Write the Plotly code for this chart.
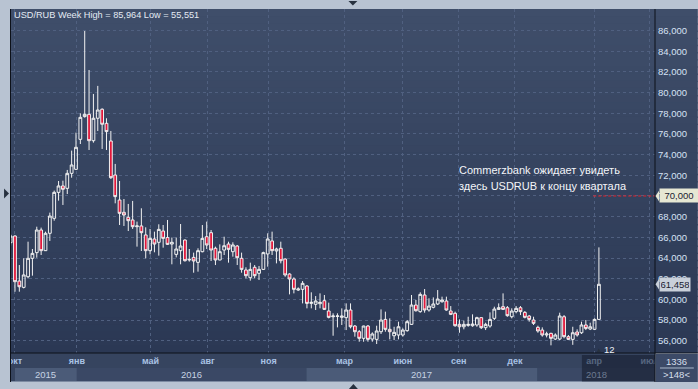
import plotly.graph_objects as go

# ---------------- data (weekly USD/RUB candles) ----------------
opens = [65.48, 66.13, 61.77, 61.16, 62.19, 63.97, 64.52, 66.71, 64.71, 66.39,
         67.84, 70.35, 70.97, 70.74, 72.19, 72.58, 75.48, 77.68, 77.90, 75.35,
         77.52, 78.39, 77.03, 75.32, 72.03, 69.61, 68.42, 67.94, 67.68, 67.03,
         67.10, 66.23, 64.71, 65.84, 65.52, 66.61, 65.98, 65.35, 64.35, 64.71,
         65.74, 63.81, 64.06, 63.58, 64.61, 66.06, 66.45, 64.94, 63.81, 64.77,
         65.35, 64.61, 65.16, 63.97, 62.84, 62.10, 63.10, 62.52, 62.90, 64.39,
         65.65, 64.68, 64.94, 63.90, 62.45, 61.97, 60.90, 60.97, 61.29, 59.61,
         59.52, 59.58, 59.87, 58.87, 58.32, 58.35, 58.26, 58.23, 58.97, 57.42,
         56.87, 56.23, 57.42, 56.16, 56.13, 56.87, 58.06, 57.10, 56.48, 56.55,
         56.55, 56.97, 57.58, 59.45, 58.81, 60.42, 58.97, 59.23, 59.55, 59.77,
         59.84, 58.87, 58.65, 57.58, 57.35, 57.48, 57.45, 57.52, 58.23, 57.26,
         57.42, 58.16, 59.03, 59.29, 59.19, 58.32, 58.81, 59.19, 58.74, 58.39,
         58.00, 57.29, 57.03, 56.55, 56.71, 56.16, 56.16, 58.32, 56.39, 56.13,
         56.84, 56.77, 57.52, 57.13, 57.10, 58.06]
highs = [66.30, 66.20, 63.32, 63.97, 65.58, 64.87, 67.03, 66.94, 66.55, 68.39,
         70.52, 71.45, 71.48, 72.52, 74.39, 76.13, 78.00, 85.964, 82.19, 79.87,
         80.65, 78.48, 77.52, 76.29, 73.10, 71.45, 69.71, 69.23, 69.52, 67.52,
         68.81, 66.97, 66.81, 66.55, 67.26, 67.19, 67.68, 65.98, 65.98, 67.29,
         65.80, 64.87, 64.52, 64.94, 67.19, 67.52, 66.71, 65.10, 65.32, 66.06,
         65.58, 65.52, 65.26, 64.52, 63.10, 63.55, 63.32, 63.23, 64.61, 66.39,
         66.55, 65.00, 65.58, 63.97, 62.52, 62.13, 61.16, 61.77, 61.39, 60.68,
         60.32, 60.58, 60.42, 59.68, 58.65, 58.65, 59.13, 59.61, 59.61, 57.52,
         57.03, 57.45, 57.52, 56.81, 57.45, 59.03, 58.81, 58.16, 57.35, 57.84,
         57.19, 58.00, 60.42, 59.94, 60.68, 61.00, 60.10, 60.19, 60.90, 60.26,
         60.26, 59.35, 58.81, 58.06, 57.94, 58.32, 58.55, 58.32, 58.26, 57.74,
         58.74, 59.29, 59.61, 60.58, 59.35, 59.13, 59.35, 59.35, 58.87, 58.48,
         58.32, 57.45, 57.29, 56.87, 56.77, 56.71, 58.71, 58.48, 56.55, 57.35,
         57.10, 57.84, 58.00, 57.74, 58.16, 65.03]
lows = [65.20, 60.74, 60.74, 61.06, 62.03, 62.29, 64.03, 64.29, 64.68, 65.65,
        67.61, 69.55, 69.13, 70.19, 71.77, 72.52, 75.03, 77.58, 74.45, 75.16,
        76.29, 74.55, 74.45, 71.65, 69.29, 67.19, 67.10, 66.61, 66.81, 65.10,
        64.68, 63.97, 64.35, 64.55, 64.23, 65.00, 65.26, 63.39, 64.06, 63.39,
        63.65, 63.65, 62.58, 62.68, 64.55, 64.87, 63.71, 63.32, 63.78, 64.29,
        63.55, 64.13, 63.32, 62.58, 62.03, 61.81, 62.03, 61.87, 62.84, 63.16,
        64.29, 63.48, 63.48, 62.19, 60.48, 60.58, 60.81, 59.61, 59.13, 59.13,
        58.97, 59.13, 58.97, 58.16, 56.48, 57.29, 57.52, 57.03, 57.19, 56.39,
        55.90, 55.90, 55.90, 55.90, 55.68, 56.65, 56.87, 56.13, 56.06, 56.13,
        56.39, 56.87, 57.52, 58.81, 58.71, 58.71, 58.81, 59.13, 59.45, 59.68,
        58.90, 58.48, 57.35, 56.77, 57.10, 57.35, 57.35, 57.35, 57.13, 57.03,
        57.26, 58.00, 58.97, 58.97, 58.32, 58.16, 58.65, 58.48, 58.16, 57.84,
        57.52, 56.77, 56.39, 56.32, 55.551, 56.06, 56.06, 56.23, 56.06, 55.60,
        56.39, 56.65, 57.03, 57.03, 57.03, 58.06]
closes = [66.13, 61.71, 61.22, 62.36, 63.97, 64.45, 66.71, 64.71, 66.39, 68.06,
          70.35, 70.97, 70.65, 72.19, 73.00, 74.71, 77.61, 77.90, 75.35, 77.52,
          78.32, 76.94, 76.23, 71.77, 69.94, 68.32, 68.16, 67.61, 67.03, 67.10,
          66.45, 64.71, 65.90, 65.35, 66.77, 65.90, 65.32, 65.52, 64.87, 65.16,
          63.74, 63.87, 63.71, 64.71, 65.90, 65.26, 64.77, 63.81, 64.61, 65.19,
          64.84, 65.26, 64.03, 62.90, 62.29, 62.90, 62.29, 62.90, 64.52, 65.84,
          64.71, 64.87, 63.74, 62.36, 61.97, 60.97, 61.00, 61.55, 59.61, 59.71,
          59.84, 59.71, 59.03, 58.26, 58.39, 58.39, 58.39, 58.97, 57.35, 56.87,
          56.23, 57.42, 56.13, 56.65, 56.94, 58.00, 57.10, 56.87, 56.81, 57.35,
          57.03, 57.84, 59.45, 58.90, 60.48, 58.97, 59.35, 59.55, 60.03, 59.94,
          58.97, 58.55, 57.45, 57.35, 57.58, 57.58, 57.61, 58.23, 57.26, 57.58,
          58.06, 59.06, 59.19, 59.03, 58.42, 58.87, 59.13, 58.81, 58.26, 58.06,
          57.68, 56.94, 56.55, 56.65, 56.23, 56.55, 58.39, 56.39, 56.13, 56.77,
          56.55, 57.52, 57.19, 57.35, 58.06, 61.458]
week_idx = list(range(-1, len(opens) - 1))   # bar number (first candle partly hidden)

month_tick_idx = [0, 14.2, 31.1, 44.2, 58.2, 75.6, 89.0, 101.8, 114.7, 132.9, 145.7]
month_labels = ["окт", "янв", "май", "авг", "ноя", "мар", "июн", "сен", "дек", "апр", "июл"]
year_start_idx = [0, 14.2, 66.9, 119.9]
year_labels = ["2015", "2016", "2017", "2018"]
price_ticks = list(range(56, 87, 2))
target_level = 70.0
target_from_idx = 132.7
future_from_idx = 130.1
x_range = [-0.914, 146.87]
y_range = [54.81, 88.09]
note_lines = ["Commerzbank ожидает увидеть", "здесь USDRUB к концу квартала"]

# ---------------- geometry helpers ----------------
W, H = 698, 389
ML, MR, MT, MB = 8, 43, 9, 36
PW, PH = W - ML - MR, H - MT - MB


def px(x):
    return (x - ML) / PW


def py(y):
    return (H - MB - y) / PH


def fmt(v):
    return f"{v:.3f}".replace(".", ",")


FONT = "Liberation Sans"
FRAME = "#b8c3d2"
shapes = []

# gradient background of the plot area + right price panel
top_c, bot_c = (63, 78, 106), (43, 56, 84)
N = 48
for i in range(N):
    t = (i + 0.5) / N
    c = tuple(round(top_c[k] * (1 - t) + bot_c[k] * t) for k in range(3))
    y1 = 1 - i / N
    y0 = 1 - (i + 1) / N - 0.004
    shapes.append(dict(type="rect", xref="paper", yref="paper", x0=0, x1=px(W),
                       y0=max(y0, 0), y1=y1, fillcolor=f"rgb{c}", line_width=0, layer="below"))

# bottom date panel: month row and year row
shapes.append(dict(type="rect", xref="paper", yref="paper", x0=0, x1=1, y0=py(381.5), y1=0,
                   fillcolor="#36445f", line_width=0, layer="below"))
year_ends = year_start_idx[1:] + [x_range[1]]
for i, (a, b) in enumerate(zip(year_start_idx, year_ends)):
    shapes.append(dict(type="rect", xref="x", yref="paper", x0=a, x1=b, y0=py(381), y1=py(368),
                       fillcolor="#4b5b78" if i % 2 == 0 else "#3a4865", line_width=0, layer="below"))
shapes.append(dict(type="line", xref="paper", yref="paper", x0=0, x1=1, y0=py(381.5), y1=py(381.5),
                   line=dict(color="#7d8ba2", width=1), layer="below"))

# target line
shapes.append(dict(type="line", xref="x", yref="y", x0=target_from_idx, x1=x_range[1],
                   y0=target_level, y1=target_level,
                   line=dict(color="#e3232c", width=1, dash="3px,2px"), layer="above"))

# future area overlay on date panel
shapes.append(dict(type="rect", xref="x", yref="paper", x0=future_from_idx, x1=x_range[1],
                   y0=py(381.5), y1=py(355), fillcolor="rgba(18,26,42,0.55)", line_width=0, layer="above"))

# masks / frame pieces drawn above
shapes.append(dict(type="rect", xref="paper", yref="paper", x0=px(0), x1=px(7), y0=py(H), y1=py(0),
                   fillcolor=FRAME, line_width=0, layer="above"))
shapes.append(dict(type="rect", xref="paper", yref="paper", x0=px(655.5), x1=px(W), y0=py(382), y1=py(354),
                   fillcolor="#3c4a67", line_width=0, layer="above"))
shapes.append(dict(type="line", xref="paper", yref="paper", x0=px(660), x1=px(694), y0=py(368), y1=py(368),
                   line=dict(color="#aab8cc", width=1), layer="above"))
# separators
shapes.append(dict(type="line", xref="paper", yref="paper", x0=px(7.5), x1=px(7.5), y0=py(382), y1=1,
                   line=dict(color="#0d1119", width=1), layer="above"))
shapes.append(dict(type="line", xref="paper", yref="paper", x0=1, x1=1, y0=py(382), y1=1,
                   line=dict(color="#0d1119", width=1), layer="above"))
shapes.append(dict(type="line", xref="paper", yref="paper", x0=0, x1=px(W), y0=0, y1=0,
                   line=dict(color="#0d1119", width=1), layer="above"))

# price tag pointers
for lvl, col in [(target_level, "#e6e7d3"), (closes[-1], "#c9d0da")]:
    shapes.append(dict(type="path", xref="paper", yref="y",
                       path=f"M {px(655.5)},{lvl} L {px(659)},{lvl + 0.5} L {px(659)},{lvl - 0.5} Z",
                       fillcolor=col, line_width=0, layer="above"))

# small UI triangles
tri = "#27313f"
for pts in [[(347, 1), (356, 1), (351.5, 5.5)], [(1, 188.5), (1, 198.5), (6, 193.5)],
            [(347.5, 389), (356.5, 389), (352, 384)], [(596.5, 352), (600.5, 352), (598.5, 348.5)]]:
    p = "M " + " L ".join(f"{px(a)},{py(b)}" for a, b in pts) + " Z"
    shapes.append(dict(type="path", xref="paper", yref="paper", path=p,
                       fillcolor=tri, line_width=0, layer="above"))

# ---------------- annotations ----------------
annotations = [
    dict(text=f"USD/RUB Week High = {fmt(max(highs))} Low = {fmt(min(lows))}",
         xref="paper", yref="paper", x=px(9.5), y=py(14.5), xanchor="left", yanchor="middle",
         showarrow=False, font=dict(family=FONT, size=9.2, color="#e4ebf4")),
    dict(text=fmt(target_level), xref="paper", yref="y", x=px(659), y=target_level,
         xanchor="left", yanchor="middle", showarrow=False, bgcolor="#e6e7d3", borderpad=1, width=36,
         font=dict(family=FONT, size=9.5, color="#1b2130")),
    dict(text=fmt(closes[-1]), xref="paper", yref="y", x=px(659), y=closes[-1],
         xanchor="left", yanchor="middle", showarrow=False, bgcolor="#c9d0da", borderpad=1, width=28,
         font=dict(family=FONT, size=9.5, color="#1b2130")),
    dict(text="12", xref="paper", yref="paper", x=px(609.5), y=py(349), xanchor="center", yanchor="middle",
         showarrow=False, font=dict(family=FONT, size=9.5, color="#eef2f8")),
    dict(text="1336", xref="paper", yref="paper", x=px(677), y=py(361.5), xanchor="center", yanchor="middle",
         showarrow=False, font=dict(family=FONT, size=9.5, color="#d5deea")),
    dict(text="&gt;148&lt;", xref="paper", yref="paper", x=px(677), y=py(374.5), xanchor="center",
         yanchor="middle", showarrow=False, font=dict(family=FONT, size=9.5, color="#d5deea")),
]
for k, line in enumerate(note_lines):
    annotations.append(dict(text=line, xref="paper", yref="paper", x=px(456), y=py(170 + 16 * k),
                            xanchor="left", yanchor="middle", showarrow=False,
                            font=dict(family=FONT, size=11, color="#f3f5f9")))
for i, (a, b) in enumerate(zip(year_start_idx, year_ends)):
    annotations.append(dict(text=year_labels[i], xref="x", yref="paper", x=(a + b) / 2, y=py(374.5),
                            xanchor="center", yanchor="middle", showarrow=False,
                            font=dict(family=FONT, size=9.5,
                                      color="#6c7a91" if i == 3 else "#c6d2e3")))

# ---------------- figure ----------------
fig = go.Figure(go.Candlestick(
    x=week_idx, open=opens, high=highs, low=lows, close=closes,
    increasing=dict(line=dict(color="#f2f2f2", width=1), fillcolor="rgba(0,0,0,0)"),
    decreasing=dict(line=dict(color="#f2f2f2", width=1), fillcolor="#e2163a"),
    whiskerwidth=0, showlegend=False, hoverinfo="skip"))

fig.update_layout(
    width=W, height=H, margin=dict(l=ML, r=MR, t=MT, b=MB),
    paper_bgcolor=FRAME, plot_bgcolor="rgba(0,0,0,0)",
    boxgap=0.2, boxgroupgap=0.2,
    shapes=shapes, annotations=annotations, showlegend=False,
    xaxis=dict(range=x_range, rangeslider=dict(visible=False), tickmode="array",
               tickvals=month_tick_idx, ticktext=month_labels, ticks="", showline=False,
               zeroline=False, showgrid=True, gridcolor="#506080", griddash="3px,3px", gridwidth=1,
               tickfont=dict(family=FONT, size=9, color="#a9c2e4", weight="bold"),
               ticklabelstandoff=1, fixedrange=True),
    yaxis=dict(range=y_range, side="right", tickmode="array", tickvals=price_ticks,
               ticktext=[fmt(v) for v in price_ticks], ticks="", showline=False, zeroline=False,
               showgrid=True, gridcolor="#506080", griddash="3px,3px", gridwidth=1,
               tickfont=dict(family=FONT, size=9.5, color="#d6e2f4"),
               ticklabelstandoff=2, fixedrange=True),
)

fig.write_html("out.html", config={"displayModeBar": False},
               post_script="document.body.style.margin='0';document.body.style.overflow='hidden';")
